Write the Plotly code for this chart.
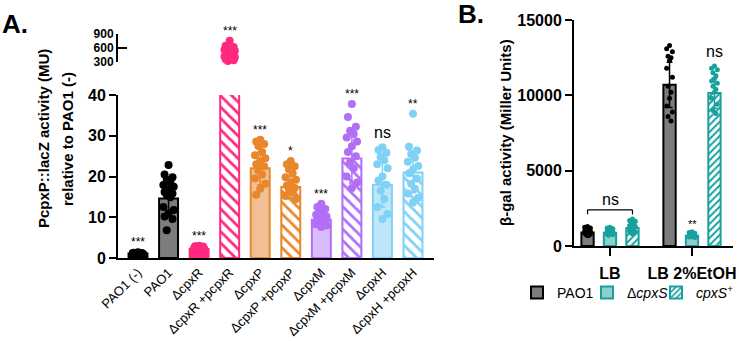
import plotly.graph_objects as go

# ---------------- Panel A data ----------------
labels_A = ["PAO1 (-)", "PAO1", "ΔcpxR", "ΔcpxR +pcpxR", "ΔcpxP", "ΔcpxP +pcpxP",
            "ΔcpxM", "ΔcpxM +pcpxM", "ΔcpxH", "ΔcpxH +pcpxH"]
means_A = [1.1, 14.6, 2.2, 490, 22.0, 17.4, 9.4, 24.4, 18.0, 21.0]
sd_A = [0.2, 4.0, 0.4, 120, 4.0, 2.8, 1.6, 6.0, 5.5, 5.0]
signif_A = ["***", "", "***", "***", "***", "*", "***", "***", "ns", "**"]
yticks_A = [0, 10, 20, 30, 40]
yticks_A_top = [300, 600, 900]

dots_PAO1_neg = [1.4, 1.3, 1.2, 1.2, 1.1, 1.1, 1.0, 1.0, 1.0, 0.9, 0.9, 1.1, 1.2, 0.8, 1.0]
dots_PAO1 = [22.8, 20.5, 19.8, 19.2, 18.5, 17.9, 17.5, 16.8, 16.2, 15.8, 15.5, 14.9,
             12.5, 11.8, 11.0, 10.2, 9.6, 6.8]
dots_cpxR = [3.0, 2.9, 2.8, 2.6, 2.5, 2.4, 2.3, 2.2, 2.1, 2.0, 2.0, 1.9, 1.8, 1.7, 1.5]
dots_cpxR_p = [757, 650, 620, 600, 580, 560, 540, 520, 500, 480, 460, 440, 420, 400,
               380, 360, 340, 320]
dots_cpxP = [29.0, 28.6, 28.0, 27.5, 26.0, 25.2, 24.5, 23.8, 23.0, 22.5, 21.5, 20.5,
             19.5, 18.2, 17.0, 15.5]
dots_cpxP_p = [23.8, 23.0, 22.5, 21.8, 20.8, 19.8, 19.2, 18.5, 17.8, 17.2, 16.8, 16.0,
               15.2, 14.5]
dots_cpxM = [13.3, 12.5, 12.0, 11.5, 11.0, 10.6, 10.2, 9.8, 9.5, 9.2, 8.9, 8.6, 8.3,
             8.0, 7.6]
dots_cpxM_p = [37.8, 34.6, 32.2, 31.2, 30.4, 29.6, 28.6, 27.4, 26.0, 25.0, 23.5, 22.0,
               20.0, 18.5, 17.2]
dots_cpxH = [27.2, 26.5, 25.8, 24.8, 24.0, 23.0, 22.0, 20.0, 19.0, 18.0, 16.5, 14.5,
             12.5, 10.8, 9.6]
dots_cpxH_p = [35.4, 27.3, 26.4, 25.5, 24.6, 23.6, 22.6, 21.8, 20.8, 19.5, 18.2, 17.0,
               15.8, 14.8, 13.6]
dots_A = [dots_PAO1_neg, dots_PAO1, dots_cpxR, dots_cpxR_p, dots_cpxP, dots_cpxP_p,
          dots_cpxM, dots_cpxM_p, dots_cpxH, dots_cpxH_p]

# ---------------- Panel B data ----------------
groups_B = ["LB", "LB 2%EtOH"]
series_B = ["PAO1", "Δ<i>cpxS</i>", "<i>cpxS</i><sup>+</sup>"]
yticks_B = [0, 5000, 10000, 15000]
yticklabels_B = ["0", "5000", "10000", "15000"]
means_PAO1_B = [900, 10700]
means_dS_B = [880, 680]
means_S_B = [1200, 10150]
sd_PAO1_B = [200, 1500]
sd_dS_B = [180, 120]
sd_S_B = [300, 1000]
dots_B_PAO1_LB = [1300, 1250, 1200, 1150, 1100, 1050, 1000, 980, 950, 900, 870, 840, 800, 760, 720, 680]
dots_B_dS_LB = [1250, 1200, 1150, 1100, 1050, 1000, 970, 940, 900, 870, 840, 800, 760, 720]
dots_B_S_LB = [1800, 1700, 1650, 1550, 1500, 1400, 1350, 1300, 1250, 1200, 1100, 1000, 950, 900, 850, 800]
dots_B_PAO1_Et = [13300, 13100, 12900, 12600, 12500, 12300, 11800, 11200, 10600, 10200, 9800, 9300, 8900, 8600, 8300]
dots_B_dS_Et = [950, 900, 850, 820, 780, 750, 720, 700, 680, 650, 620, 600, 560]
dots_B_S_Et = [11950, 11800, 11700, 11500, 11300, 11100, 10950, 10800, 10600, 10400, 10200, 9800, 9400, 9000, 8800]
signif_B_Et = ["", "**", "ns"]

# ---------------- styles ----------------
W, H = 739, 341
FONT = "Liberation Sans, Arial, sans-serif"
BLACK = "#000000"
GRAY = "#7d7d7d"
PINK = "#ff2a7f"
ORANGE = "#e8872b"
ORANGE_L = "#f2bf95"
PURPLE = "#b26ef7"
PURPLE_L = "#d9bcfa"
BLUE = "#7fd2f6"
BLUE_L = "#bde6f9"
TEAL = "#17a09e"
TEAL_L = "#8fcfcb"

line_A = [BLACK, BLACK, PINK, PINK, ORANGE, ORANGE, PURPLE, PURPLE, BLUE, BLUE]
fill_A = [BLACK, GRAY, PINK, PINK, ORANGE_L, ORANGE, PURPLE_L, PURPLE, BLUE_L, BLUE]
pat_A = ["", "", "", "\\", "", "\\", "", "\\", "", "\\"]
dotc_A = [BLACK, BLACK, PINK, PINK, ORANGE, ORANGE, PURPLE, PURPLE, BLUE, BLUE]
jit_A = [0, -0.13, 0.13, -0.06, 0.06, -0.17, 0.17]
jit_B = [0, -0.035, 0.035, -0.018, 0.018]


def px_x(p, x0, x1, r0, r1):
    return r0 + (p - x0) / (x1 - x0) * (r1 - r0)


fig = go.Figure()

# Panel A bars (lower axis)
for i, lab in enumerate(labels_A):
    pattern = dict(shape=pat_A[i], fgcolor=line_A[i], bgcolor="white", size=8, solidity=0.35) if pat_A[i] else None
    fig.add_trace(go.Bar(
        x=[i], y=[means_A[i]], width=0.62, xaxis="x", yaxis="y",
        marker=dict(color=fill_A[i], line=dict(color=line_A[i], width=2), pattern=pattern),
        error_y=dict(type="data", array=[sd_A[i]], color=line_A[i], thickness=1.5, width=3),
        showlegend=False, hoverinfo="skip"))

# Panel B bars
offsets_B = [-0.274, 0.0, 0.274]
means_B = [means_PAO1_B, means_dS_B, means_S_B]
sd_B = [sd_PAO1_B, sd_dS_B, sd_S_B]
fill_B = [GRAY, TEAL_L, TEAL]
line_B = [BLACK, TEAL, TEAL]
pat_B = ["", "", "/"]
legends_B = ["legend", "legend2", "legend3"]
for s in range(3):
    pattern = dict(shape=pat_B[s], fgcolor=TEAL, bgcolor="white", size=5, solidity=0.4) if pat_B[s] else None
    fig.add_trace(go.Bar(
        x=[g + offsets_B[s] for g in range(len(groups_B))], y=means_B[s], width=0.15,
        xaxis="x3", yaxis="y3", name=series_B[s], legend=legends_B[s],
        marker=dict(color=fill_B[s], line=dict(color=line_B[s], width=2), pattern=pattern),
        error_y=dict(type="data", array=sd_B[s], color=line_B[s], thickness=1.5, width=3),
        showlegend=True, hoverinfo="skip"))

# Panel A dots
for i, d in enumerate(dots_A):
    low = [v for v in d if v <= 40]
    high = [v for v in d if v >= 300]
    for vals, ya in ((low, "y"), (high, "y2")):
        if not vals:
            continue
        xs = [i + jit_A[k % len(jit_A)] for k in range(len(vals))]
        fig.add_trace(go.Scatter(
            x=xs, y=vals, mode="markers", xaxis="x" if ya == "y" else "x2", yaxis=ya,
            marker=dict(color=dotc_A[i], size=8, line=dict(width=0)),
            cliponaxis=False, showlegend=False, hoverinfo="skip"))

# Panel B dots
dots_B = [[dots_B_PAO1_LB, dots_B_PAO1_Et], [dots_B_dS_LB, dots_B_dS_Et], [dots_B_S_LB, dots_B_S_Et]]
dotc_B = [BLACK, TEAL, TEAL]
for s in range(3):
    for g in range(2):
        vals = dots_B[s][g]
        xs = [g + offsets_B[s] + jit_B[k % len(jit_B)] for k in range(len(vals))]
        fig.add_trace(go.Scatter(
            x=xs, y=vals, mode="markers", xaxis="x3", yaxis="y3",
            marker=dict(color=dotc_B[s], size=5, line=dict(width=0)),
            cliponaxis=False, showlegend=False, hoverinfo="skip"))

annotations = []
# Significance marks panel A
for i, sig in enumerate(signif_A):
    if not sig:
        continue
    low = [v for v in dots_A[i] if v <= 40]
    high = [v for v in dots_A[i] if v >= 300]
    if high:
        yv, yr, xr = max(high), "y2", "x2"
    else:
        yv, yr, xr = max(low), "y", "x"
    annotations.append(dict(
        x=i, y=yv, xref=xr, yref=yr, text=sig, showarrow=False, yanchor="bottom",
        yshift=(4 if sig == "ns" else 1),
        font=dict(size=(16 if sig == "ns" else 12), color=BLACK, family=FONT)))

# Significance panel B (EtOH group)
for s in range(3):
    if signif_B_Et[s]:
        yv = max(dots_B[s][1])
        annotations.append(dict(
            x=1 + offsets_B[s], y=yv, xref="x3", yref="y3", text=signif_B_Et[s], showarrow=False,
            yanchor="bottom", yshift=(4 if signif_B_Et[s] == "ns" else 0),
            font=dict(size=(16 if signif_B_Et[s] == "ns" else 11), color=BLACK, family=FONT)))

# ns bracket over LB group
br_y = max(max(dots_B[s][0]) for s in range(3)) + 600
br_drop = 300
x_left = 0 + offsets_B[0]
x_right = 0 + offsets_B[2]
shapes = [
    dict(type="line", xref="x3", yref="y3", x0=x_left, x1=x_right, y0=br_y, y1=br_y,
         line=dict(color=BLACK, width=1.2)),
    dict(type="line", xref="x3", yref="y3", x0=x_left, x1=x_left, y0=br_y, y1=br_y - br_drop,
         line=dict(color=BLACK, width=1.2)),
    dict(type="line", xref="x3", yref="y3", x0=x_right, x1=x_right, y0=br_y, y1=br_y - br_drop,
         line=dict(color=BLACK, width=1.2)),
]
annotations.append(dict(x=0, y=br_y, xref="x3", yref="y3", text="ns", showarrow=False,
                        yanchor="bottom", yshift=0, font=dict(size=16, color=BLACK, family=FONT)))

# Panel letters and axis titles
annotations += [
    dict(x=0 / W, y=1 - 24 / H, xref="paper", yref="paper", text="<b>A.</b>", showarrow=False,
         xanchor="left", yanchor="middle", font=dict(size=26, color=BLACK, family=FONT)),
    dict(x=456 / W, y=1 - 14 / H, xref="paper", yref="paper", text="<b>B.</b>", showarrow=False,
         xanchor="left", yanchor="middle", font=dict(size=26, color=BLACK, family=FONT)),
    dict(x=43 / W, y=1 - 139 / H, xref="paper", yref="paper",
         text="<b>PcpxP::lacZ activity (MU)</b>", showarrow=False,
         textangle=-90, xanchor="center", yanchor="middle",
         font=dict(size=15, color=BLACK, family=FONT)),
    dict(x=67 / W, y=1 - 139 / H, xref="paper", yref="paper",
         text="<b>relative to PAO1 (-)</b>", showarrow=False,
         textangle=-90, xanchor="center", yanchor="middle",
         font=dict(size=15, color=BLACK, family=FONT)),
    dict(x=505 / W, y=1 - 133 / H, xref="paper", yref="paper",
         text="<b>β-gal activity (Miller Units)</b>", showarrow=False,
         textangle=-90, xanchor="center", yanchor="middle",
         font=dict(size=15, color=BLACK, family=FONT)),
]

# axis geometry
xa0, xa1 = 118, 434
xr0 = px_x(xa0, 138, 413, 0, 9)
xr1 = px_x(xa1, 138, 413, 0, 9)
xb0, xb1 = 574, 733
xbr0 = px_x(xb0, 610, 692, 0, 1)
xbr1 = px_x(xb1, 610, 692, 0, 1)

axis_common = dict(showgrid=False, zeroline=False, showline=True, linecolor=BLACK, linewidth=2,
                   tickcolor=BLACK, tickwidth=2, automargin=False)

fig.update_layout(
    template="none",
    width=W, height=H, margin=dict(l=0, r=0, t=0, b=0, pad=0),
    paper_bgcolor="white", plot_bgcolor="white", barmode="overlay",
    font=dict(family=FONT, color=BLACK),
    xaxis=dict(domain=[xa0 / W, xa1 / W], range=[xr0, xr1], anchor="y",
               tickvals=list(range(len(labels_A))), ticktext=labels_A, tickangle=-45,
               ticks="", tickfont=dict(size=13, family=FONT), **axis_common),
    yaxis=dict(domain=[1 - 258 / H, 1 - 95 / H], range=[0, 40], anchor="x",
               tickvals=yticks_A, ticks="outside", ticklen=7,
               tickfont=dict(size=16, family=FONT, weight="bold"), **axis_common),
    xaxis2=dict(domain=[xa0 / W, xa1 / W], range=[xr0, xr1], anchor="y2", visible=False),
    yaxis2=dict(domain=[1 - 62 / H, 1 - 34 / H], range=[300, 900], anchor="x2",
                tickvals=yticks_A_top, ticks="inside", ticklen=9,
                tickfont=dict(size=12, family=FONT, weight="bold"), **axis_common),
    xaxis3=dict(domain=[xb0 / W, xb1 / W], range=[xbr0, xbr1], anchor="y3",
                tickvals=list(range(len(groups_B))), ticktext=groups_B, ticks="outside", ticklen=8,
                ticklabelstandoff=4,
                tickfont=dict(size=16, family=FONT, weight="bold"), **axis_common),
    yaxis3=dict(domain=[1 - 246 / H, 1 - 20 / H], range=[0, 15000], anchor="x3",
                tickvals=yticks_B, ticktext=yticklabels_B, ticks="outside", ticklen=7,
                tickfont=dict(size=16, family=FONT, weight="bold"), **axis_common),
    annotations=annotations,
    shapes=shapes,
)
leg_common = dict(orientation="h", yanchor="middle", y=1 - 293 / H,
                  bgcolor="rgba(0,0,0,0)", font=dict(size=14, family=FONT, color=BLACK),
                  itemwidth=30, borderwidth=0)
fig.update_layout(
    legend=dict(x=517 / W, xanchor="left", **leg_common),
    legend2=dict(x=587 / W, xanchor="left", **leg_common),
    legend3=dict(x=1.0, xanchor="right", **leg_common),
)

fig.write_html("out.html")
